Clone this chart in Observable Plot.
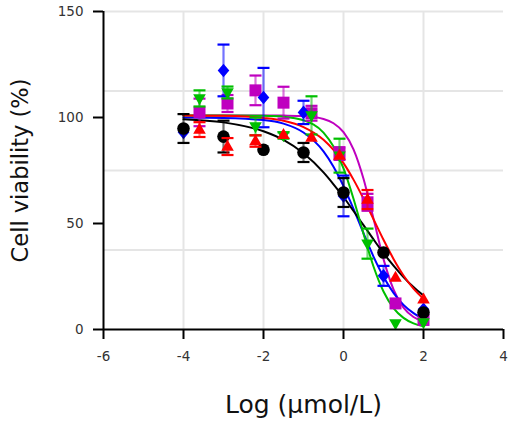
<!DOCTYPE html>
<html><head><meta charset="utf-8">
<script src="https://cdn.jsdelivr.net/npm/d3@7"></script>
<script src="https://cdn.jsdelivr.net/npm/@observablehq/plot@0.6"></script>
<style>body{margin:0;background:#fff;}</style>
</head><body><div id="chart"></div>
<script>
// ---- data ----
// series keys (drawing order): square (magenta), diamond (blue), circle (black), down-triangle (green), up-triangle (red)
const seriesKeys   = ["square", "diamond", "circle", "down", "up"];
const seriesColors = ["#bf00bf", "#0000ff", "#000000", "#00bf00", "#ff0000"];

const xTenfold  = [-4, -3, -2, -1, 0, 1, 2];
const xFivefold = [-3.6, -2.9, -2.2, -1.5, -0.8, -0.1, 0.6, 1.3, 2];

const circleY   = [94.8, 91, 84.8, 83.5, 64.6, 36.3, 8];
const circleErr = [6.8, 7.5, 0, 4.5, 6.8, 0, 0];
const diamondY   = [93, 122.2, 109.4, 102.4, 63, 25.3, 9.5];
const diamondErr = [0, 12.2, 14, 5.5, 9.6, 4.7, 0];
const upY     = [94.3, 86.3, 88.9, 91.8, 90.6, 82, 61.3, 24.5, 14.2];
const upErr   = [3.5, 4, 2.7, 0, 0, 0, 4.5, 0, 0];
const downY   = [109, 111.8, 95.8, 91.5, 101, 82, 40.5, 2.8, 3.3];
const downErr = [3.8, 2.8, 4.2, 1.5, 9, 8, 7.1, 0, 0];
const squareY   = [102.4, 106.6, 112.8, 107, 102, 83, 60, 12.3, 4.5];
const squareErr = [6.5, 4, 7, 7.5, 3.5, 3, 4, 0, 0];

// fitted curves
const curveX       = [-4, -3, -2, -1.5, -1, -0.5, -0.25, 0, 0.25, 0.5, 0.75, 1, 1.25, 1.5, 1.75, 2];
const circleCurve  = [99.2, 97.7, 93.5, 89.4, 83.1, 74.1, 68.5, 62.5, 55.9, 49.2, 42.5, 36.0, 30.1, 24.7, 20.0, 16.0];
const upCurve      = [101, 100.8, 99.8, 98.5, 95.5, 89.5, 84.7, 78.5, 70.7, 61.7, 52, 42.3, 33.3, 25.5, 19.3, 14.5];
const downCurve    = [101, 101, 100.8, 100.4, 98.7, 92.9, 86.3, 76, 61.7, 45.2, 29.7, 17.9, 10.1, 5.5, 2.9, 1.5];
const diamondCurve = [100, 99.8, 98.8, 97.1, 92.9, 84, 76.8, 67.6, 56.9, 45.4, 34.4, 24.9, 17.3, 11.6, 7.7, 5.0];
const squareCurve  = [101, 101, 101, 100.9, 100.7, 99.3, 97.3, 93.1, 85, 71.1, 52.3, 33.2, 18.9, 10.3, 5.9, 3.8];

const xTicks = [-6, -4, -2, 0, 2, 4];
const yTicks = [0, 50, 100, 150];
const xGrid = [-4, -2, 0, 2];
const yGrid = [37.5, 75, 112.5, 150];
const xTitle = "Log (µmol/L)";
const yTitle = "Cell viability (%)";

// ---- tables ----
const pts = (s, xs, ys, es) => xs.map((x, i) => ({s, x, y: ys[i], e: es[i]}));
const points = {
  circle: pts("circle", xTenfold, circleY, circleErr),
  diamond: pts("diamond", xTenfold, diamondY, diamondErr),
  up: pts("up", xFivefold, upY, upErr),
  down: pts("down", xFivefold, downY, downErr),
  square: pts("square", xFivefold, squareY, squareErr)
};
const curveVals = {circle: circleCurve, up: upCurve, down: downCurve, diamond: diamondCurve, square: squareCurve};
const curves = seriesKeys.flatMap(s => curveX.map((x, i) => ({s, x, y: curveVals[s][i]})));

// ---- symbols ----
const sym = f => ({draw: f});
const symbols = {
  circle: sym(c => { c.moveTo(6.3, 0); c.arc(0, 0, 6.3, 0, 2 * Math.PI); }),
  up: sym(c => { c.moveTo(0, -6.8); c.lineTo(6.3, 4.2); c.lineTo(-6.3, 4.2); c.closePath(); }),
  down: sym(c => { c.moveTo(0, 6.8); c.lineTo(6.3, -4.2); c.lineTo(-6.3, -4.2); c.closePath(); }),
  diamond: sym(c => { c.moveTo(0, -6.8); c.lineTo(5.8, 0); c.lineTo(0, 6.8); c.lineTo(-5.8, 0); c.closePath(); }),
  square: sym(c => { c.rect(-6, -6, 12, 12); })
};
const cap = sym(c => { c.moveTo(-6, 0); c.lineTo(6, 0); });

const seriesMarks = seriesKeys.flatMap(s => {
  const d = points[s];
  const withErr = d.filter(r => r.e > 0);
  return [
    Plot.ruleX(withErr, {x: "x", y1: r => r.y - r.e, y2: r => r.y + r.e, stroke: "s", strokeOpacity: 0.55, strokeWidth: 2.2}),
    Plot.dot(withErr, {x: "x", y: r => r.y - r.e, symbol: cap, stroke: "s", strokeWidth: 2.2, fill: "none"}),
    Plot.dot(withErr, {x: "x", y: r => r.y + r.e, symbol: cap, stroke: "s", strokeWidth: 2.2, fill: "none"}),
    Plot.dot(d, {x: "x", y: "y", symbol: symbols[s], fill: "s", stroke: "none"})
  ];
});

const font = "'DejaVu Sans', Lato, sans-serif";
const chart = Plot.plot({
  width: 510,
  height: 426,
  marginLeft: 103,
  marginRight: 7,
  marginTop: 11,
  marginBottom: 97,
  style: {fontFamily: font, fontSize: "13.5px", background: "#fff"},
  x: {domain: [-6, 4]},
  y: {domain: [0, 150]},
  color: {type: "ordinal", domain: seriesKeys, range: seriesColors},
  marks: [
    Plot.ruleX(xGrid, {stroke: "#e5e5e5", strokeWidth: 2}),
    Plot.ruleY(yGrid, {stroke: "#e5e5e5", strokeWidth: 2}),
    Plot.line(curves, {x: "x", y: "y", z: "s", stroke: "s", strokeWidth: 2, curve: "monotone-x"}),
    ...seriesMarks,
    Plot.ruleY([0], {x1: -6, x2: 4, stroke: "#000", strokeWidth: 2}),
    Plot.ruleX([-6], {y1: 0, y2: 150, stroke: "#000", strokeWidth: 2}),
    Plot.axisX({ticks: xTicks, tickSize: 10, tickPadding: 12, tickFormat: d => String(d), fontSize: 13.5,
      stroke: "#000", strokeWidth: 2, fill: "#333", label: null}),
    Plot.axisY({ticks: yTicks, tickSize: 10, tickPadding: 10, tickFormat: d => String(d), fontSize: 13.5,
      stroke: "#000", strokeWidth: 2, fill: "#333", label: null}),
    Plot.text([xTitle], {text: d => d, frameAnchor: "bottom", dy: 83, fontSize: 25, fill: "#111"}),
    Plot.text([yTitle], {text: d => d, frameAnchor: "left", dx: -83, rotate: -90, textAnchor: "middle", fontSize: 22.5, fill: "#111"})
  ]
});
document.getElementById("chart").appendChild(chart);
</script>
</body></html>
